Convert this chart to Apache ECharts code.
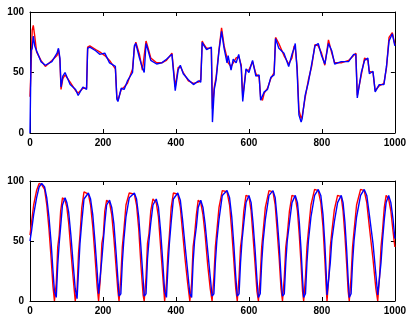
<!DOCTYPE html>
<html>
<head>
<meta charset="utf-8">
<script src="https://cdn.jsdelivr.net/npm/echarts@6/dist/echarts.min.js"></script>
<style>html,body{margin:0;padding:0;background:#fff;}#c{width:409px;height:320px;}</style>
</head>
<body>
<div id="c"></div>
<script>
var xTicks = [0, 200, 400, 600, 800, 1000];
var yTicks = [0, 50, 100];

var topX = [0,3,6,9,13,18,30,42,60,74,78,82,85,90,96,110,125,132,145,155,158,164,180,191,205,218,234,238,241,250,258,267,281,286,290,300,308,313,318,322,331,347,361,374,389,394,398,406,412,420,434,448,461,468,472,475,484,497,500,505,510,518,525,532,540,543,551,557,565,572,579,583,592,600,610,619,628,632,637,642,651,660,669,673,682,696,709,718,724,727,732,737,743,746,754,763,772,781,790,799,808,818,827,835,853,873,887,893,897,908,917,926,930,940,946,957,970,977,984,993,1000];
var topRed = [30,55,85,89,80,67,60,55,60,64,69,60,36,45,48,42,35,33,37,37,71,72,69,67,64,60,53,30,27,36,38,41,53,70,75,65,52,52,76,72,62,58,58,60,66,67,38,54,55,50,43,41,42,44,76,74,70,70,20,38,46,69,87,72,62,58,55,58,62,63,56,30,52,52,59,49,46,30,27,33,37,45,50,79,74,64,57,62,72,70,55,19,12,14,29,44,55,73,72,66,56,77,66,58,58,60,64,66,31,48,62,60,51,50,35,39,41,54,79,83,73];
var topBlue = [0,68,70,80,72,68,59,56,59,66,70,62,38,47,50,40,36,31,38,36,70,71,68,65,66,58,55,28,26,37,36,43,50,72,74,62,54,50,74,70,60,57,58,61,65,66,35,52,56,49,44,40,43,42,75,73,69,71,9,36,44,68,84,70,58,64,52,61,58,65,54,26,53,50,60,47,48,27,26,34,36,46,48,78,70,66,55,65,70,74,52,15,9,12,31,42,57,72,74,64,57,74,68,57,59,59,65,65,29,50,60,62,49,51,34,40,40,55,76,82,72];

var botX = [0,4,10,18,25,32,40,46,52,58,63,67,
72,76,80,84,89,96,101,106,112,118,124,
129,133,137,142,148,160,166,172,178,184,188,
193,197,201,205,210,218,224,230,236,241,244,
249,253,257,263,272,286,292,298,304,310,313,
318,322,326,331,337,346,352,358,364,369,
374,378,382,387,393,405,412,418,425,432,438,
443,447,451,456,461,468,474,480,487,494,499,
504,508,512,518,527,540,547,553,559,564,568,
573,577,581,586,592,600,606,611,617,622,626,
631,635,639,645,655,666,672,677,683,688,692,
697,701,705,711,718,727,733,738,743,747,750,
755,759,763,770,780,790,797,803,808,812,814,
819,823,827,834,843,853,858,863,868,872,875,
880,884,888,895,906,916,923,930,940,948,953,
958,962,966,971,976,983,989,995,1000];
var botRed = [55,65,80,92,98,97,93,80,60,35,12,0,
15,45,55,75,86,84,78,65,42,20,0,
10,40,55,78,91,89,80,62,38,12,0,
20,48,55,75,84,82,72,52,28,8,0,
20,45,58,80,90,89,80,60,30,5,0,
20,48,56,75,85,82,70,45,20,0,
15,40,55,78,90,89,78,58,35,15,0,
15,45,55,72,84,82,72,55,30,10,0,
20,45,58,78,92,91,80,58,32,10,0,
20,45,55,75,88,87,75,55,30,8,0,
20,45,58,78,92,91,80,60,35,10,0,
20,45,55,75,88,87,75,55,30,8,0,
20,45,58,80,93,92,82,62,35,10,0,
20,45,57,76,88,87,75,55,30,8,0,
20,45,58,80,93,92,82,62,35,10,0,
20,45,58,78,88,85,75,58,45];
var botBlue = [50,58,72,86,95,98,95,86,70,48,25,8,
3,30,48,62,80,86,82,74,55,32,10,
2,25,48,66,85,90,85,72,50,25,6,
5,35,50,65,80,84,78,64,40,18,4,
6,32,50,70,86,90,85,70,45,18,4,
6,35,50,65,80,85,78,58,32,8,
3,28,48,66,85,90,84,68,46,25,6,
3,32,50,62,78,84,78,64,42,20,4,
6,32,50,68,88,92,86,70,45,20,4,
6,32,50,65,82,88,82,66,42,18,3,
6,32,50,68,88,92,86,70,46,20,4,
6,32,50,65,82,88,82,66,42,18,3,
6,32,50,70,88,93,88,72,48,22,5,
6,32,50,66,82,88,82,66,42,18,3,
6,32,50,70,88,93,88,72,48,22,5,
6,32,50,68,82,88,82,68,52];

function pairs(xs, ys) { return xs.map(function (x, i) { return [x, ys[i]]; }); }

var font = { fontFamily: 'Liberation Sans', fontSize: 10, fontWeight: 'bold', color: '#000',
  formatter: function (v) { return String(v); } };

function xAx(gi, pos, labels) {
  return {
    type: 'value', gridIndex: gi, position: pos, min: xTicks[0], max: xTicks[xTicks.length - 1],
    interval: xTicks[1] - xTicks[0],
    axisLine: { show: true, onZero: false, lineStyle: { color: '#000', width: 1 } },
    axisTick: { show: true, inside: true, length: 4, lineStyle: { color: '#000' } },
    axisLabel: Object.assign({ show: labels, margin: 5 }, font),
    splitLine: { show: false }
  };
}
function yAx(gi, pos, labels) {
  return {
    type: 'value', gridIndex: gi, position: pos, min: yTicks[0], max: yTicks[yTicks.length - 1],
    interval: yTicks[1] - yTicks[0],
    axisLine: { show: true, onZero: false, lineStyle: { color: '#000', width: 1 } },
    axisTick: { show: true, inside: true, length: 4, lineStyle: { color: '#000' } },
    axisLabel: Object.assign({ show: labels, margin: 6 }, font),
    splitLine: { show: false }
  };
}
function ln(xi, yi, data, color) {
  return {
    type: 'line', xAxisIndex: xi, yAxisIndex: yi, data: data, showSymbol: false, symbol: 'none',
    lineStyle: { color: color, width: 1.4 }, itemStyle: { color: color }, silent: true
  };
}

var chart = echarts.init(document.getElementById('c'), null, { renderer: 'canvas' });
chart.setOption({
  animation: false,
  backgroundColor: '#fff',
  grid: [
    { left: 30, right: 10, top: 12, bottom: 187, containLabel: false },
    { left: 30, right: 10, top: 181, bottom: 19, containLabel: false }
  ],
  xAxis: [xAx(0, 'bottom', true), xAx(0, 'top', false), xAx(1, 'bottom', true), xAx(1, 'top', false)],
  yAxis: [yAx(0, 'left', true), yAx(0, 'right', false), yAx(1, 'left', true), yAx(1, 'right', false)],
  series: [
    ln(0, 0, pairs(topX, topRed), '#ff0000'),
    ln(0, 0, pairs(topX, topBlue), '#0000ff'),
    ln(2, 2, pairs(botX, botRed), '#ff0000'),
    ln(2, 2, pairs(botX, botBlue), '#0000ff')
  ]
});
</script>
</body>
</html>
